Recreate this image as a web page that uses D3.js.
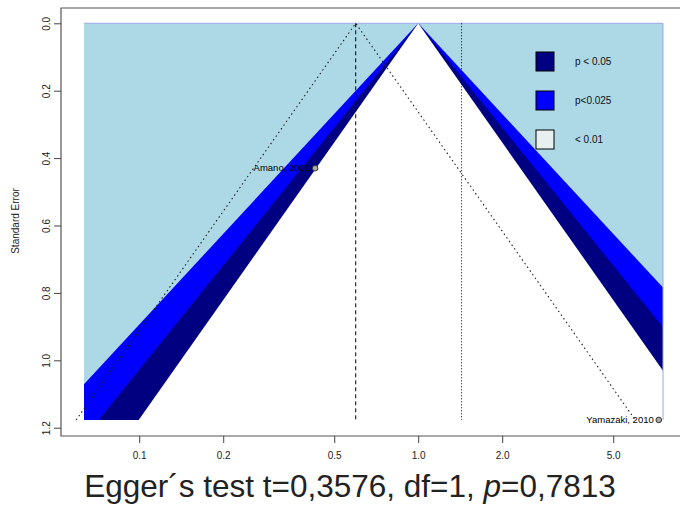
<!DOCTYPE html>
<html>
<head>
<meta charset="utf-8">
<script src="https://cdn.jsdelivr.net/npm/d3@7"></script>
<style>
  body { margin: 0; background: #fff; }
  svg { display: block; font-family: "Liberation Sans", Arial, sans-serif; }
</style>
</head>
<body>
<svg id="chart" width="680" height="508"></svg>
<script>
// studies
const studyNames = ['Amano, 2001', 'Yamazaki, 2010'];
const studyOR = [0.427, 7.28];
const studySE = [0.430, 1.177];

// contour levels (z values) and fills
const contourZ = [2.576, 2.24, 1.96];
const contourFill = ['#0000FF', '#000080', '#FFFFFF'];
const legendLabels = ['p < 0.05', 'p<0.025', '< 0.01'];
const legendFill = ['#000080', '#0000FF', '#E8EFF1'];

const pooledOR = 0.597;
const refOR = 1.43;
const xTicks = [0.1, 0.2, 0.5, 1.0, 2.0, 5.0];
const yTicks = [0, 0.2, 0.4, 0.6, 0.8, 1.0, 1.2];
const xLimits = [0.0634, 7.54];
const seMax = 1.177;

const svg = d3.select('#chart');

const x = d3.scaleLog().domain(xLimits).range([84, 663]);
const y = d3.scaleLinear().domain([0, 1.2]).range([23.3, 427.7]);

const frame = { left: 61, top: 8, bottom: 436, right: 680 };

// clip to the shaded region
svg.append('defs').append('clipPath').attr('id', 'clip')
  .append('rect')
  .attr('x', x(xLimits[0])).attr('y', y(0))
  .attr('width', x(xLimits[1]) - x(xLimits[0]))
  .attr('height', y(seMax) - y(0));

// background of the contour region
svg.append('rect')
  .attr('x', x(xLimits[0])).attr('y', y(0))
  .attr('width', x(xLimits[1]) - x(xLimits[0]))
  .attr('height', y(seMax) - y(0))
  .attr('fill', '#ADD8E6');

const gC = svg.append('g').attr('clip-path', 'url(#clip)');
contourZ.forEach((z, i) => {
  const d = Math.exp(z * seMax);
  const pts = [[1, 0], [1 / d, seMax], [d, seMax]];
  gC.append('polygon')
    .attr('points', pts.map(p => x(p[0]) + ',' + y(p[1])).join(' '))
    .attr('fill', contourFill[i]);
});

// thin border of the shaded region (top and right)
svg.append('path')
  .attr('d', `M${x(xLimits[0])},${y(0)}H${x(xLimits[1])}V${y(seMax)}`)
  .attr('fill', 'none').attr('stroke', '#9DA8E6').attr('stroke-width', 1);

// pseudo confidence lines around pooled estimate
const dp = Math.exp(1.96 * seMax);
svg.append('path')
  .attr('d', `M${x(pooledOR / dp)},${y(seMax)}L${x(pooledOR)},${y(0)}L${x(pooledOR * dp)},${y(seMax)}`)
  .attr('fill', 'none').attr('stroke', '#222').attr('stroke-width', 1.1)
  .attr('stroke-dasharray', '1.5,3');

svg.append('line')
  .attr('x1', x(pooledOR)).attr('x2', x(pooledOR))
  .attr('y1', y(0)).attr('y2', y(seMax))
  .attr('stroke', '#000').attr('stroke-width', 1).attr('stroke-dasharray', '4,3');

svg.append('line')
  .attr('x1', x(refOR)).attr('x2', x(refOR))
  .attr('y1', y(0)).attr('y2', y(seMax))
  .attr('stroke', '#000').attr('stroke-width', 1).attr('stroke-dasharray', '1,2');

// points and labels
studyOR.forEach((or, i) => {
  svg.append('circle')
    .attr('cx', x(or)).attr('cy', y(studySE[i])).attr('r', 2.8)
    .attr('fill', '#aaa').attr('stroke', '#333').attr('stroke-width', 1);
  svg.append('text')
    .attr('x', x(or) - 5).attr('y', y(studySE[i]) + 3)
    .attr('text-anchor', 'end').attr('font-size', 9.5).attr('fill', '#000')
    .text(studyNames[i]);
});

// frame
svg.append('path')
  .attr('d', `M${frame.right},${frame.top}H${frame.left}V${frame.bottom}H${frame.right}`)
  .attr('fill', 'none').attr('stroke', '#555').attr('stroke-width', 1.2);

// y axis
const yAxis = d3.axisLeft(y).tickValues(yTicks).tickSize(7).tickFormat(d3.format('.1f'));
const gY = svg.append('g').attr('transform', `translate(${frame.left},0)`).call(yAxis);
gY.select('.domain').remove();
gY.selectAll('.tick line').attr('stroke', '#444');
gY.selectAll('.tick text')
  .attr('font-size', 10).attr('fill', '#222').attr('font-family', null)
  .attr('x', null).attr('dy', null)
  .attr('text-anchor', 'middle')
  .attr('transform', 'translate(-15,0) rotate(-90)')
  .attr('dy', '0.35em');

svg.append('text')
  .attr('transform', `translate(19,${221}) rotate(-90)`)
  .attr('text-anchor', 'middle').attr('font-size', 10).attr('fill', '#222')
  .text('Standard Error');

// x axis
const xAxis = d3.axisBottom(x).tickValues(xTicks).tickSize(7).tickFormat(d3.format('.1f'));
const gX = svg.append('g').attr('transform', `translate(0,${frame.bottom})`).call(xAxis);
gX.select('.domain').remove();
gX.selectAll('.tick line').attr('stroke', '#444');
gX.selectAll('.tick text').attr('font-size', 10).attr('fill', '#222').attr('font-family', null)
  .attr('y', 16);

// legend
const legend = svg.append('g');
legendLabels.forEach((lab, i) => {
  const ly = 52 + i * 39;
  legend.append('rect')
    .attr('x', 536).attr('y', ly).attr('width', 18).attr('height', 19)
    .attr('fill', legendFill[i]).attr('stroke', '#000').attr('stroke-width', 1);
  legend.append('text')
    .attr('x', 575).attr('y', ly + 13)
    .attr('font-size', 10).attr('fill', '#111')
    .text(lab);
});

// title
const title = svg.append('text')
  .attr('x', 350).attr('y', 497)
  .attr('text-anchor', 'middle').attr('font-size', 31.5).attr('fill', '#222');
title.append('tspan').text('Egger´s test t=0,3576, df=1, ');
title.append('tspan').attr('font-style', 'italic').text('p');
title.append('tspan').text('=0,7813');
</script>
</body>
</html>
